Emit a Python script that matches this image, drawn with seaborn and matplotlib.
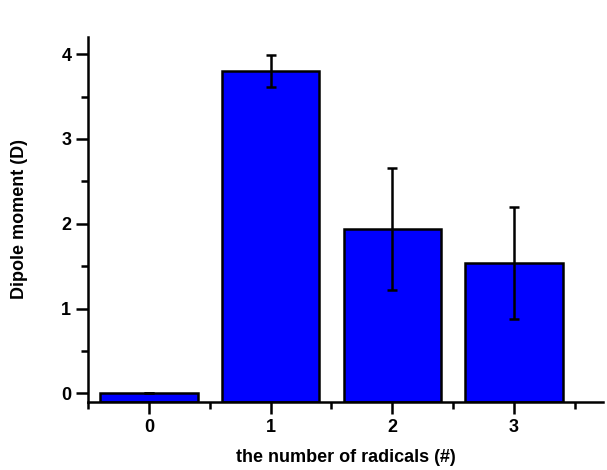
import matplotlib
matplotlib.use("Agg")
import matplotlib.pyplot as plt
import seaborn as sns
from matplotlib.ticker import MultipleLocator

radicals = ["0", "1", "2", "3"]
dipole = [0.0, 3.80, 1.94, 1.54]
dipole_err = [0.0, 0.19, 0.72, 0.66]
baseline = -0.1

sns.set_style("ticks")
plt.rcParams['font.family'] = ['Liberation Sans', 'DejaVu Sans']
plt.rcParams['font.weight'] = 'bold'
plt.rcParams['text.color'] = 'black'
plt.rcParams['axes.labelcolor'] = 'black'

fig = plt.figure(figsize=(6.07, 4.70), dpi=100)
ax = fig.add_axes([0.145, 0.145, 0.848, 0.776])

sns.barplot(x=radicals, y=dipole, color="#0000ff", saturation=1, width=0.8,
            edgecolor="black", linewidth=1.8, ax=ax)
# bars in the original start at the bottom of the axis, not at zero
for bar, v in zip(ax.patches, dipole):
    bar.set_y(baseline)
    bar.set_height(v - baseline)

ax.errorbar(range(len(radicals)), dipole, yerr=dipole_err, fmt="none",
            ecolor="black", elinewidth=1.8, capsize=3.5, capthick=1.8)

ax.set_xlim(-0.5, 3.73)
ax.set_ylim(baseline, 4.2)
ax.yaxis.set_major_locator(MultipleLocator(1))
ax.yaxis.set_minor_locator(MultipleLocator(0.5))
ax.xaxis.set_minor_locator(MultipleLocator(0.5))

ax.set_xlabel("the number of radicals (#)", fontsize=13, fontweight="bold",
              labelpad=10, color="black")
ax.set_ylabel("Dipole moment (D)", fontsize=13, fontweight="bold",
              labelpad=24, color="black")

for side in ["top", "right"]:
    ax.spines[side].set_visible(False)
for side in ["left", "bottom"]:
    ax.spines[side].set_linewidth(1.8)
    ax.spines[side].set_color("black")

ax.tick_params(which="major", direction="out", length=8.5, width=1.8, labelsize=13,
               colors="black", pad=3.5)
ax.tick_params(which="minor", direction="out", length=5, width=1.8, colors="black")
for lbl in ax.get_xticklabels() + ax.get_yticklabels():
    lbl.set_fontweight("bold")

fig.savefig("out.png", dpi=100)
